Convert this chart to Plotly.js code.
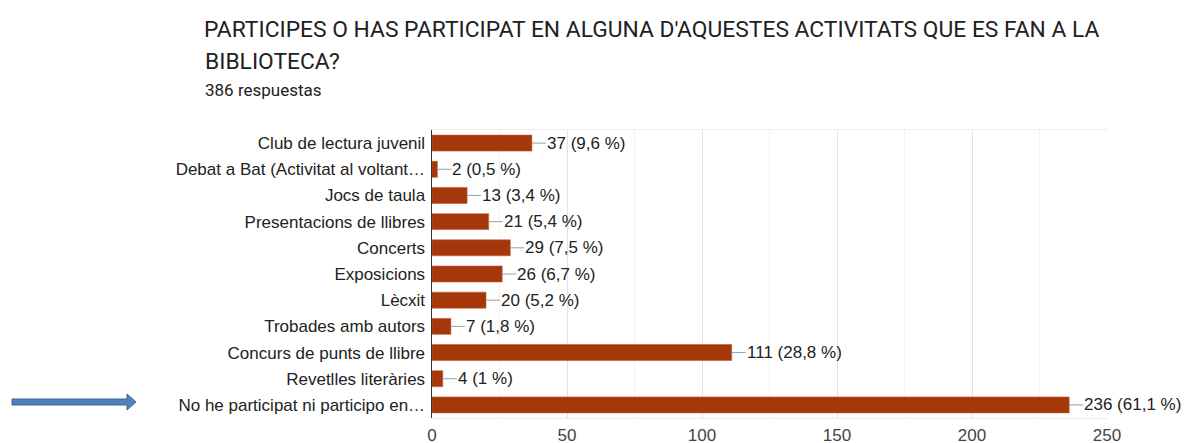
<!DOCTYPE html>
<html>
<head>
<meta charset="utf-8">
<script src="https://cdn.plot.ly/plotly-3.0.1.min.js"></script>
<style>html,body{margin:0;padding:0;background:#fff;}#chart{width:1184px;height:443px;}</style>
</head>
<body>
<div id="chart"></div>
<script>
const categories = [
  "Club de lectura juvenil",
  "Debat a Bat (Activitat al voltant…",
  "Jocs de taula",
  "Presentacions de llibres",
  "Concerts",
  "Exposicions",
  "Lècxit",
  "Trobades amb autors",
  "Concurs de punts de llibre",
  "Revetlles literàries",
  "No he participat ni participo en…"
];
const counts = [37, 2, 13, 21, 29, 26, 20, 7, 111, 4, 236];
const percents = ["9,6", "0,5", "3,4", "5,4", "7,5", "6,7", "5,2", "1,8", "28,8", "1", "61,1"];
const xTicks = [0, 50, 100, 150, 200, 250];
const titleLine1 = "PARTICIPES O HAS PARTICIPAT EN ALGUNA D'AQUESTES ACTIVITATS QUE ES FAN A LA";
const titleLine2 = "BIBLIOTECA?";
const subtitleText = "386 respuestas";

const W = 1184, H = 443;
const M = {l: 432, r: 77, t: 130, b: 25};
const PW = W - M.l - M.r, PH = H - M.t - M.b;
const fx = px => (px - M.l) / PW;
const fy = py => (H - M.b - py) / PH;

const barColor = "#a4380b";
const labelFont = {family: "Liberation Sans, Arial, sans-serif", size: 17, color: "#222222"};
const titleFont = {family: "Roboto, sans-serif", size: 22.8, color: "#202124"};

const trace = {
  type: "bar",
  orientation: "h",
  x: counts,
  y: categories,
  marker: {color: barColor, line: {color: "#c0603a", width: 0.6}},
  hoverinfo: "skip"
};

const valueAnnotations = counts.map((v, i) => ({
  x: v, y: categories[i], xref: "x", yref: "y",
  text: v + " (" + percents[i] + " %)",
  showarrow: true, arrowhead: 0, arrowwidth: 1, arrowcolor: "#9e9e9e",
  ax: 14, ay: 0, xanchor: "left", yanchor: "middle", standoff: 0, borderpad: 0,
  font: labelFont
}));

// decorative blue block arrow in the left margin
const arrowPath = [
  [12, 399], [127, 399], [127, 394], [136, 402], [127, 410], [127, 405], [12, 405]
].map((p, i) => (i === 0 ? "M" : "L") + fx(p[0]).toFixed(5) + "," + fy(p[1]).toFixed(5)).join(" ") + " Z";

const layout = {
  width: W, height: H,
  margin: M,
  paper_bgcolor: "#ffffff", plot_bgcolor: "#ffffff",
  showlegend: false,
  bargap: 0.39,
  title: {
    text: titleLine1,
    font: titleFont,
    xref: "container", x: 204 / W, xanchor: "left",
    yref: "container", y: 1 - 29 / H, yanchor: "middle"
  },
  annotations: [
    {
      text: titleLine2, xref: "paper", yref: "paper",
      x: fx(203), y: fy(61), xanchor: "left", yanchor: "middle", showarrow: false,
      font: titleFont
    },
    {
      text: subtitleText, xref: "paper", yref: "paper",
      x: fx(203), y: fy(90), xanchor: "left", yanchor: "middle", showarrow: false,
      font: {family: "Roboto, sans-serif", size: 17, color: "#202124"}
    }
  ].concat(valueAnnotations),
  shapes: [
    {type: "path", xref: "paper", yref: "paper", path: arrowPath,
     fillcolor: "#4f81bd", line: {color: "#3b6694", width: 1}}
  ],
  xaxis: {
    range: [0, 250], tickvals: xTicks, ticktext: xTicks.map(String),
    showgrid: true, gridcolor: "#e4e4e4", gridwidth: 1,
    minor: {dtick: 25, showgrid: true, gridcolor: "#f3f3f3", gridwidth: 1},
    zeroline: false, showline: true, mirror: true, linecolor: "#ececec", linewidth: 1,
    ticks: "", ticklabelstandoff: 2,
    tickfont: {family: "Liberation Sans, Arial, sans-serif", size: 17, color: "#444444"},
    fixedrange: true
  },
  yaxis: {
    autorange: "reversed", type: "category",
    showline: true, linecolor: "#333333", linewidth: 1.5,
    showgrid: false, zeroline: false, ticks: "",
    tickfont: labelFont, ticklabelstandoff: 2,
    fixedrange: true
  }
};

Plotly.newPlot("chart", [trace], layout, {displayModeBar: false, staticPlot: true});
</script>
</body>
</html>
